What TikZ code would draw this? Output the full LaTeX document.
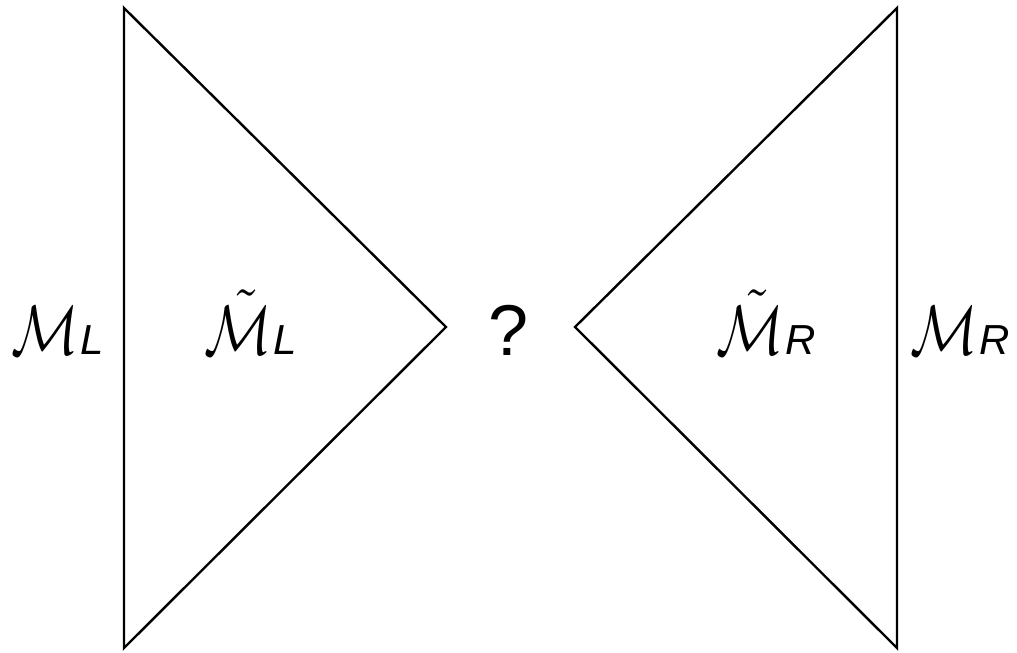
\documentclass[tikz,border=0pt]{standalone}
\usepackage{graphicx}
\usepackage{fontspec}
\setmainfont{Liberation Sans}
\newcommand{\subL}[1]{\kern2pt{\fontsize{42}{42}\selectfont\itshape #1}}
\newcommand{\bigM}{\scalebox{5.6}[7]{\fontsize{10}{12}\selectfont$\mathcal{M}$}}
\newcommand{\bigMt}{\scalebox{5.6}[7]{\fontsize{10}{12}\selectfont$\tilde{\mathcal{M}}$}}
\tikzset{
  edge/.style={line width=2.4pt, line join=miter},
  lab/.style={inner sep=0pt, anchor=base, font=\fontsize{72}{72}\selectfont},
}
\begin{document}
\begin{tikzpicture}[x=1pt,y=-1pt]
\useasboundingbox (0,0) rectangle (1017,653);
\coordinate (LT) at (124,8);
\coordinate (LB) at (124,648);
\coordinate (LA) at (446,327);
\coordinate (RT) at (897,8);
\coordinate (RB) at (897,648);
\coordinate (RA) at (575,327);
\draw[edge] (LT) -- (LA) -- (LB) -- cycle;
\draw[edge] (RT) -- (RA) -- (RB) -- cycle;
\node[lab] (ML) at (58,354) {\bigM\subL{L}};
\node[lab] (MtL) at (251,354) {\bigMt\subL{L}};
\node[lab] (Q) at (509,355) {?};
\node[lab] (MtR) at (766,354) {\bigMt\subL{R}};
\node[lab] (MR) at (960,354) {\bigM\subL{R}};
\end{tikzpicture}
\end{document}
